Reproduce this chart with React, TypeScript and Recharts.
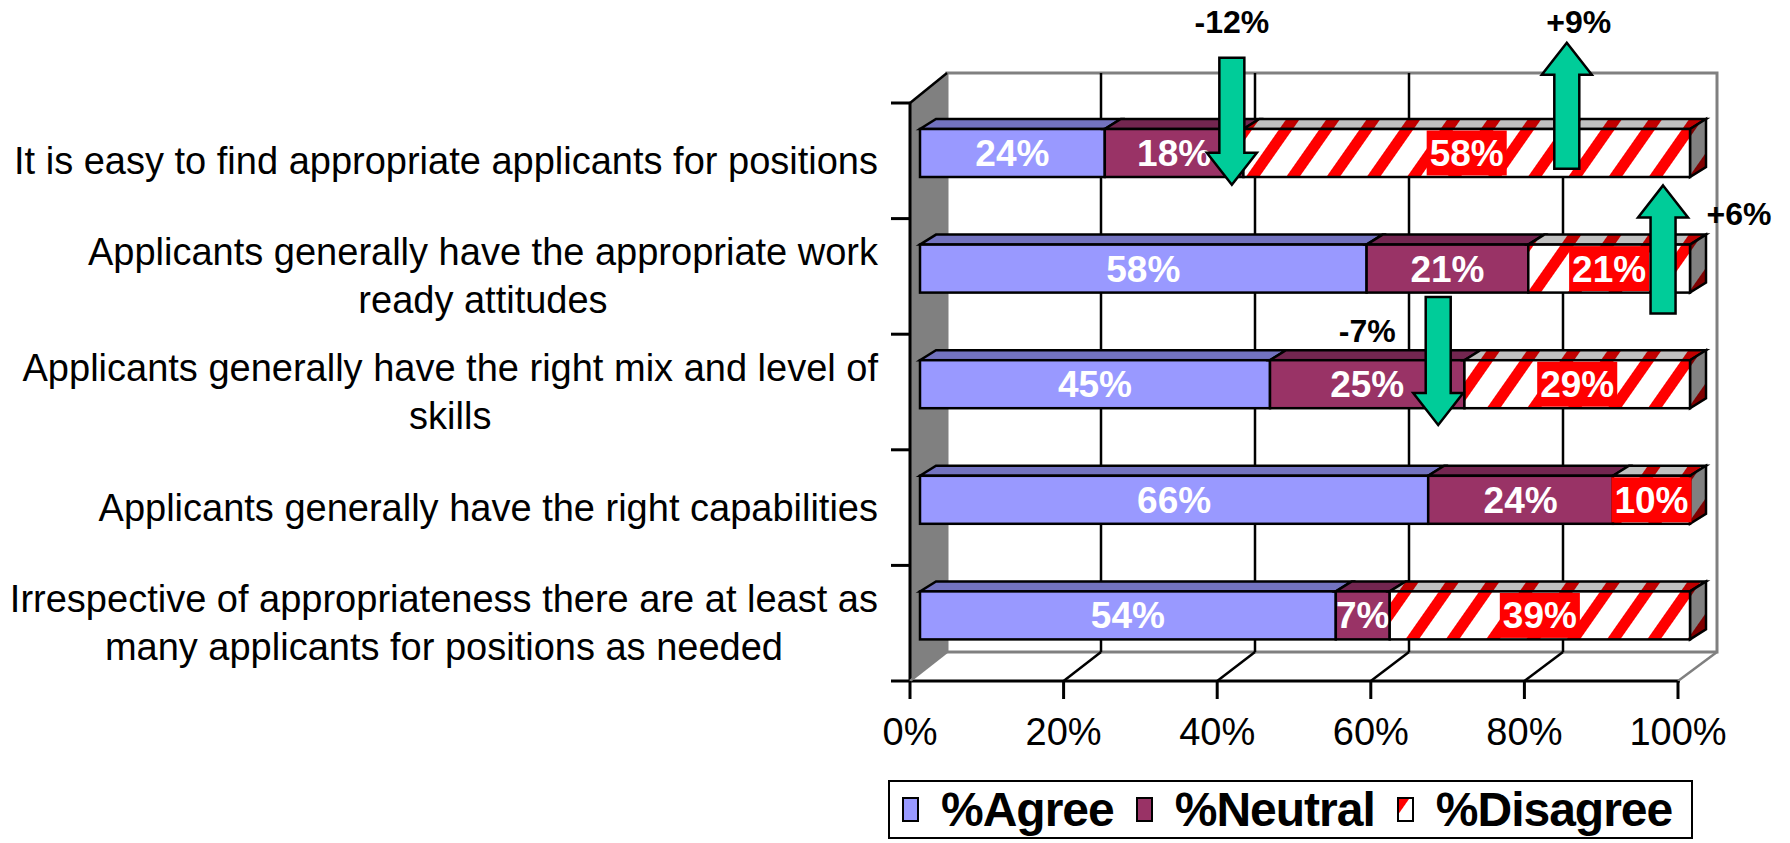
import React from 'react';
import { BarChart, Bar, XAxis, YAxis, CartesianGrid, ReferenceDot, Legend } from 'recharts';

// survey answers, % per statement
const categories = [
  'It is easy to find appropriate applicants for positions',
  'Applicants generally have the appropriate work ready attitudes',
  'Applicants generally have the right mix and level of skills',
  'Applicants generally have the right capabilities',
  'Irrespective of appropriateness there are at least as many applicants for positions as needed',
];
const agree = [24, 58, 45, 66, 54];
const neutral = [18, 21, 25, 24, 7];
const disagree = [58, 21, 29, 10, 39];
const xTicks = [0, 0.2, 0.4, 0.6, 0.8, 1];

// change arrows (annotations)
const changeLabels = ['-12%', '+9%', '+6%', '-7%'];
const changeRows = [0, 0, 1, 2];
const changeAt = [0.405, 0.84, 0.965, 0.673];
const changeDir = ['down', 'up', 'up', 'down'];

const data = categories.map((name, i) => ({
  name,
  agree: agree[i],
  neutral: neutral[i],
  disagree: disagree[i],
}));

const W = 1790;
const H = 843;
const FONT = "'Liberation Sans', Arial, sans-serif";

// bar plane (plot area)
const PL = 920;
const PR = 1690;
const PT = 95;
const PB = 673;
// front plane / back wall of the 3d box
const FL = 910;
const FR = 1678;
const FT = 103;
const FB = 681;
const BL = 947;
const BT = 73;
const BB = 652;
const BAR_DX = 16;
const BAR_DY = 10;

const frontX = (x: number) => FL + ((x - PL) * (FR - FL)) / (PR - PL);
const backX = (x: number) => BL + (x - PL);

// arrow geometry relative to the reference point
const arrowLayout = [
  { a: -95, b: 32, tdx: 0, ty: -120 },
  { a: -110, b: 16, tdx: 12, ty: -120 },
  { a: -83, b: 45, tdx: 76, ty: -43 },
  { a: -87, b: 41, tdx: -71, ty: -42 },
];

let ctx: CanvasRenderingContext2D | null = null;
function measure(text: string, font: string, size: number) {
  if (!ctx && typeof document !== 'undefined') {
    ctx = document.createElement('canvas').getContext('2d');
  }
  if (!ctx) return text.length * size * 0.5;
  ctx.font = font;
  return ctx.measureText(text).width;
}

const LABEL_SIZE = 38;
const LABEL_FONT = `${LABEL_SIZE}px ${FONT}`;

function wrapLines(text: string, maxW: number) {
  const words = text.split(' ');
  const lines: string[] = [];
  let cur = '';
  for (const w of words) {
    const t = cur ? cur + ' ' + w : w;
    if (cur && measure(t, LABEL_FONT, LABEL_SIZE) > maxW) {
      lines.push(cur);
      cur = w;
    } else cur = t;
  }
  if (cur) lines.push(cur);
  return lines;
}

const CategoryTick = (props: any) => {
  const { y, payload } = props;
  const lines = wrapLines(payload.value, 872);
  const maxW = Math.max(...lines.map((l) => measure(l, LABEL_FONT, LABEL_SIZE)));
  const cx = 878 - maxW / 2;
  const lh = 48;
  const first = y + 8 - ((lines.length - 1) * lh) / 2 + 13;
  const band = (PB - PT) / categories.length;
  return (
    <g>
      <line x1={FL - 19} x2={FL} y1={y + 8 - band / 2} y2={y + 8 - band / 2} stroke="#000" strokeWidth={3} />
      <text textAnchor="middle" fontSize={LABEL_SIZE} fontFamily={FONT} fill="#000">
        {lines.map((l, i) => (
          <tspan key={i} x={cx} y={first + i * lh}>
            {l}
          </tspan>
        ))}
      </text>
    </g>
  );
};

const PercentTick = (props: any) => {
  const { x, payload } = props;
  const fx = frontX(x);
  return (
    <g>
      <line x1={fx} x2={fx} y1={FB} y2={FB + 18} stroke="#000" strokeWidth={3} />
      <text x={fx} y={745} textAnchor="middle" fontSize={38} fontFamily={FONT} fill="#000">
        {`${Math.round(payload.value * 100)}%`}
      </text>
    </g>
  );
};

const GridLine = (props: any) => {
  const { x1 } = props;
  const edge = Math.abs(x1 - PL) < 1 || Math.abs(x1 - PR) < 1;
  const bx = backX(x1);
  return (
    <g>
      {!edge && <line x1={bx} x2={bx} y1={BT} y2={BB} stroke="#000" strokeWidth={2.5} />}
      <line x1={frontX(x1)} y1={FB} x2={bx} y2={BB} stroke={edge ? '#808080' : '#000'} strokeWidth={2.5} />
    </g>
  );
};

type SeriesStyle = { key: string; front: string; top: string; side: string; labelBg?: string; last?: boolean };

const seriesStyles: SeriesStyle[] = [
  { key: 'agree', front: '#9999FF', top: '#7373C0', side: '#7373C0' },
  { key: 'neutral', front: '#993366', top: '#732650', side: '#732650' },
  { key: 'disagree', front: 'url(#stripeFront)', top: 'url(#stripeTop)', side: 'url(#stripeSide)', labelBg: '#FF0000', last: true },
];

function makeShape(s: SeriesStyle) {
  return (props: any) => {
    const { x, y, width, height, payload } = props;
    if (!width || width <= 0) return <g />;
    const topPts = `${x},${y} ${x + width},${y} ${x + width + BAR_DX},${y - BAR_DY} ${x + BAR_DX},${y - BAR_DY}`;
    const sidePts = `${x + width},${y} ${x + width + BAR_DX},${y - BAR_DY} ${x + width + BAR_DX},${y + height - BAR_DY} ${x + width},${y + height}`;
    const label = `${payload[s.key]}%`;
    const tw = measure(label, `bold 37px ${FONT}`, 37);
    const cx = x + width / 2;
    return (
      <g>
        <polygon points={topPts} fill={s.top} stroke="#000" strokeWidth={2.5} />
        {s.last && <polygon points={sidePts} fill={s.side} stroke="#000" strokeWidth={2.5} />}
        <rect x={x} y={y} width={width} height={height} fill={s.front} stroke="#000" strokeWidth={2.5} />
        {s.labelBg && (
          <rect x={cx - tw / 2 - 3} y={y + 1.5} width={tw + 6} height={height - 3} fill={s.labelBg} />
        )}
        <text x={cx} y={y + height / 2 + 13} textAnchor="middle" fontSize={37} fontWeight="bold" fontFamily={FONT} fill="#fff">
          {label}
        </text>
      </g>
    );
  };
}

function makeArrow(i: number) {
  return (props: any) => {
    const { cx, cy } = props;
    const g = arrowLayout[i];
    const sw = 12.5;
    const hw = 25;
    const hl = 32;
    let pts: number[][];
    if (changeDir[i] === 'down') {
      const tail = cy + g.a;
      const tip = cy + g.b;
      pts = [
        [cx - sw, tail], [cx + sw, tail], [cx + sw, tip - hl], [cx + hw, tip - hl],
        [cx, tip], [cx - hw, tip - hl], [cx - sw, tip - hl],
      ];
    } else {
      const tip = cy + g.a;
      const tail = cy + g.b;
      pts = [
        [cx, tip], [cx + hw, tip + hl], [cx + sw, tip + hl], [cx + sw, tail],
        [cx - sw, tail], [cx - sw, tip + hl], [cx - hw, tip + hl],
      ];
    }
    return (
      <g>
        <polygon points={pts.map((p) => p.join(',')).join(' ')} fill="#00CC99" stroke="#000" strokeWidth={2.5} />
        <text x={cx + g.tdx} y={cy + g.ty} textAnchor="middle" fontSize={32} fontWeight="bold" fontFamily={FONT} fill="#000">
          {changeLabels[i]}
        </text>
      </g>
    );
  };
}

const legendItems = [
  { name: '%Agree', fill: '#9999FF' },
  { name: '%Neutral', fill: '#993366' },
  { name: '%Disagree', fill: 'url(#stripeFront)' },
];

const LegendBox = () => (
  <div
    style={{
      boxSizing: 'border-box',
      width: 805,
      height: 59,
      border: '2.5px solid #000',
      display: 'flex',
      alignItems: 'center',
      paddingLeft: 12,
      fontFamily: FONT,
      fontWeight: 'bold',
      fontSize: 48,
      letterSpacing: -1,
      lineHeight: 1,
      background: '#fff',
    }}
  >
    {legendItems.map((it) => (
      <div key={it.name} style={{ display: 'flex', alignItems: 'center', marginRight: 22 }}>
        <svg width={17} height={25} style={{ marginRight: 22 }}>
          <rect x={1} y={1} width={15} height={23} fill={it.fill} stroke="#000" strokeWidth={2} />
        </svg>
        <span>{it.name}</span>
      </div>
    ))}
  </div>
);

export default function App() {
  return (
    <div style={{ position: 'absolute', left: 0, top: 0, width: W, height: H, background: '#fff', fontFamily: FONT }}>
      <svg width={W} height={H} style={{ position: 'absolute', left: 0, top: 0 }}>
        <defs>
          <pattern id="stripeFront" patternUnits="userSpaceOnUse" width={33} height={10} patternTransform="rotate(35)">
            <rect width={33} height={10} fill="#fff" />
            <rect width={11} height={10} fill="#FF0000" />
          </pattern>
          <pattern id="stripeTop" patternUnits="userSpaceOnUse" width={33} height={10} patternTransform="rotate(35)">
            <rect width={33} height={10} fill="#C0C0C0" />
            <rect width={11} height={10} fill="#C00000" />
          </pattern>
          <pattern id="stripeSide" patternUnits="userSpaceOnUse" width={33} height={10} patternTransform="rotate(35)">
            <rect width={33} height={10} fill="#808080" />
            <rect width={11} height={10} fill="#800000" />
          </pattern>
        </defs>
        <rect x={BL} y={BT} width={PR - PL} height={BB - BT} fill="#fff" stroke="#808080" strokeWidth={3} />
        <polygon points={`${FL},${FT} ${BL},${BT} ${BL},${BB} ${FL},${FB}`} fill="#808080" stroke="#808080" strokeWidth={1} />
        <line x1={FL} y1={FT} x2={BL} y2={BT} stroke="#000" strokeWidth={2.5} />
        <line x1={FL} y1={FT} x2={FL} y2={FB} stroke="#000" strokeWidth={3} />
        <line x1={FL - 19} y1={FB} x2={FR + 2} y2={FB} stroke="#000" strokeWidth={3} />
      </svg>
      <div style={{ position: 'absolute', left: 0, top: 0 }}>
        <BarChart
          width={W}
          height={H}
          data={data}
          layout="vertical"
          stackOffset="expand"
          margin={{ top: PT, right: W - PR, bottom: H - PB - 60, left: PL - 900 }}
        >
          <CartesianGrid horizontal={false} vertical={GridLine} />
          <XAxis
            type="number"
            domain={[0, 1]}
            ticks={xTicks}
            interval={0}
            height={60}
            axisLine={false}
            tickLine={false}
            tick={PercentTick}
          />
          <YAxis
            type="category"
            dataKey="name"
            width={900}
            interval={0}
            axisLine={false}
            tickLine={false}
            tick={CategoryTick}
          />
          {seriesStyles.map((s) => (
            <Bar
              key={s.key}
              dataKey={s.key}
              stackId="a"
              barSize={48}
              isAnimationActive={false}
              shape={makeShape(s)}
            />
          ))}
          {changeLabels.map((l, i) => (
            <ReferenceDot
              key={l}
              x={changeAt[i]}
              y={categories[changeRows[i]]}
              ifOverflow="visible"
              shape={makeArrow(i)}
            />
          ))}
          <Legend
            layout="horizontal"
            verticalAlign="middle"
            align="center"
            wrapperStyle={{ left: 888, top: 780, width: 805, height: 59 }}
            content={() => <LegendBox />}
          />
        </BarChart>
      </div>
    </div>
  );
}
